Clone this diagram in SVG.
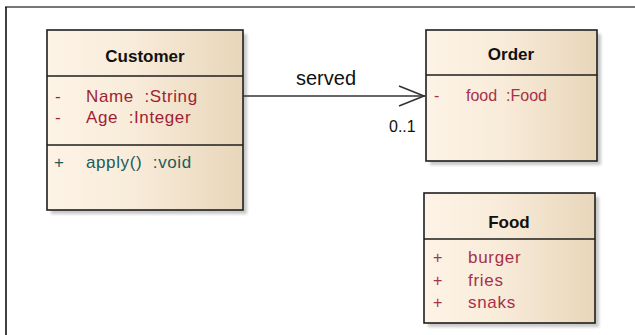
<svg xmlns="http://www.w3.org/2000/svg" width="635" height="335" viewBox="0 0 635 335" xml:space="preserve">
  <style>
    text { white-space: pre; font-family: "Liberation Sans", Arial, sans-serif; }
    .box { stroke: #1e1e1e; stroke-width: 1.6; fill: url(#cls); }
    .div { stroke: #1e1e1e; stroke-width: 1.6; }
    .shadow { fill: #9a9a9a; opacity: 0.55; filter: url(#soft); }
    .title { font-size: 17px; font-weight: bold; fill: #111; text-anchor: middle; }
    .attr { font-size: 17px; letter-spacing: 0.6px; fill: #a01e34; }
    .attr-s { font-size: 16px; fill: #a8304a; }
    .lit { font-size: 17px; letter-spacing: 0.7px; fill: #a8304a; }
    .op { font-size: 17px; letter-spacing: 0.6px; fill: #1f5a5a; }
    .lbl { font-size: 20px; fill: #111; }
    .mult { font-size: 16px; fill: #111; }
    .conn { stroke: #333; stroke-width: 1.6; fill: none; }
  </style>
  <defs>
    <linearGradient id="cls" x1="0" y1="0" x2="1" y2="0">
      <stop offset="0" stop-color="#fdf3e6"/>
      <stop offset="0.45" stop-color="#f8ebd9"/>
      <stop offset="1" stop-color="#e8d6ba"/>
    </linearGradient>
    <filter id="soft" x="-10%" y="-10%" width="120%" height="120%">
      <feGaussianBlur stdDeviation="1.5"/>
    </filter>
  </defs>

  <rect width="635" height="335" fill="#ffffff"/>

  <!-- diagram frame -->
  <line x1="5" y1="7" x2="635" y2="7" stroke="#777" stroke-width="2"/>
  <line x1="6" y1="7" x2="6" y2="335" stroke="#111" stroke-width="1.6"/>

  <!-- Customer class -->
  <g id="customer">
    <rect class="shadow" x="51" y="34" width="196" height="180"/>
    <rect class="box" x="47" y="30" width="196" height="180"/>
    <line class="div" x1="47" y1="76" x2="243" y2="76"/>
    <line class="div" x1="47" y1="145" x2="243" y2="145"/>
    <text class="title" x="145" y="62">Customer</text>
    <text class="attr" x="55" y="102">-</text>
    <text class="attr" x="86" y="102">Name  :String</text>
    <text class="attr" x="55" y="123">-</text>
    <text class="attr" x="86" y="123">Age  :Integer</text>
    <text class="op" x="54" y="168">+</text>
    <text class="op" x="86" y="168">apply()  :void</text>
  </g>

  <!-- Order class -->
  <g id="order">
    <rect class="shadow" x="430" y="34" width="171" height="131"/>
    <rect class="box" x="426" y="30" width="171" height="131"/>
    <line class="div" x1="426" y1="75" x2="597" y2="75"/>
    <text class="title" x="511" y="60">Order</text>
    <text class="attr-s" x="434" y="101">-</text>
    <text class="attr-s" x="466" y="101">food  :Food</text>
  </g>

  <!-- Food class -->
  <g id="food">
    <rect class="shadow" x="428" y="197" width="171" height="130"/>
    <rect class="box" x="424" y="193" width="171" height="130"/>
    <line class="div" x1="424" y1="239" x2="595" y2="239"/>
    <text class="title" x="509" y="228">Food</text>
    <text class="attr-s" x="433" y="263">+</text>
    <text class="lit" x="468" y="263">burger</text>
    <text class="attr-s" x="433" y="286">+</text>
    <text class="lit" x="468" y="286">fries</text>
    <text class="attr-s" x="433" y="308">+</text>
    <text class="lit" x="468" y="308">snaks</text>
  </g>

  <!-- associations -->
  <g id="connectors">
    <line class="conn" x1="243" y1="96" x2="425" y2="96"/>
    <polyline class="conn" points="399,86 424,96 399,106"/>
    <text class="lbl" x="296" y="85">served</text>
    <text class="mult" x="389" y="132">0..1</text>
  </g>
</svg>
